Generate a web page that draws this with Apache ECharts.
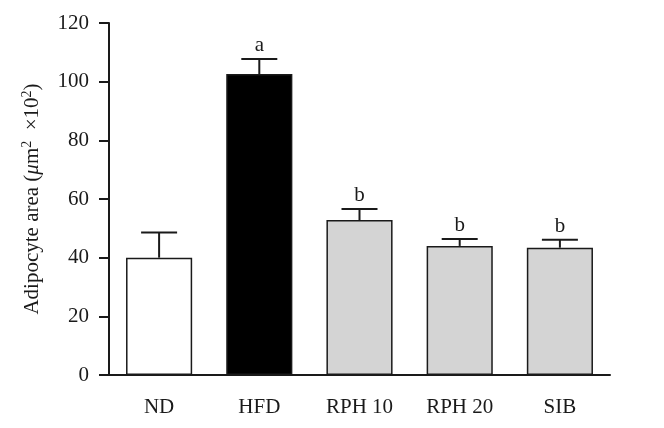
<!DOCTYPE html>
<html>
<head>
<meta charset="utf-8">
<script src="https://cdn.jsdelivr.net/npm/echarts@6/dist/echarts.min.js"></script>
<style>
  html, body { margin: 0; padding: 0; background: #fff; }
  #chart { width: 664px; height: 428px; }
</style>
</head>
<body>
<div id="chart"></div>
<script>
// groups on x axis
var categories = ['ND', 'HFD', 'RPH 10', 'RPH 20', 'SIB']
// mean adipocyte area (um^2 x 10^2)
var means = [40, 102.6, 52.8, 44.0, 43.4]
// upper error (SEM)
var errors = [8.6, 5.1, 3.8, 2.4, 2.7]
// significance letters
var letters = ['', 'a', 'b', 'b', 'b']
var fills = ['#ffffff', '#000000', '#d4d4d4', '#d4d4d4', '#d4d4d4']
var yTicks = [0, 20, 40, 60, 80, 100, 120]

var font = '"Liberation Serif", "DejaVu Serif", serif'

var chart = echarts.init(document.getElementById('chart'))

var barData = []
for (var i = 0; i < means.length; i++) {
  barData.push({ value: means[i], itemStyle: { color: fills[i] } })
}
var errData = []
for (var j = 0; j < means.length; j++) {
  errData.push([j, means[j], means[j] + errors[j], letters[j]])
}

chart.setOption({
  animation: false,
  grid: { left: 109, right: 54, top: 23, bottom: 53 },
  xAxis: {
    type: 'category',
    data: categories,
    axisLine: { lineStyle: { color: '#1a1a1a', width: 2 } },
    axisTick: { alignWithLabel: true, length: 10, lineStyle: { color: '#1a1a1a', width: 2 } },
    axisLabel: { color: '#1a1a1a', fontFamily: font, fontSize: 21, margin: 22 }
  },
  yAxis: {
    type: 'value',
    min: yTicks[0],
    max: yTicks[yTicks.length - 1],
    interval: 20,
    splitLine: { show: false },
    axisLine: { show: true, lineStyle: { color: '#1a1a1a', width: 2 } },
    axisTick: { show: true, length: 10, lineStyle: { color: '#1a1a1a', width: 2 } },
    axisLabel: { color: '#1a1a1a', fontFamily: font, fontSize: 21, margin: 20 },
    name: '{n|Adipocyte area (}{i|μ}{n|m}{s|2}{n|  ×10}{s|2}{n|)}',
    nameLocation: 'middle',
    nameGap: 64,
    nameTextStyle: {
      rich: {
        n: { fontFamily: font, fontSize: 21, color: '#1a1a1a' },
        i: { fontFamily: font, fontSize: 21, fontStyle: 'italic', color: '#1a1a1a' },
        s: { fontFamily: font, fontSize: 14, color: '#1a1a1a', verticalAlign: 'top', padding: [0, 0, 11, 0] }
      }
    }
  },
  series: [
    {
      type: 'bar',
      data: barData,
      barWidth: '66%',
      itemStyle: { borderColor: '#1a1a1a', borderWidth: 1.5 }
    },
    {
      type: 'custom',
      data: errData,
      z: 5,
      renderItem: function (params, api) {
        var base = api.coord([api.value(0), api.value(1)])
        var top = api.coord([api.value(0), api.value(2)])
        var half = 18
        return {
          type: 'group',
          children: [
            { type: 'line', shape: { x1: base[0], y1: base[1], x2: top[0], y2: top[1] },
              style: { stroke: '#1a1a1a', lineWidth: 2 } },
            { type: 'line', shape: { x1: top[0] - half, y1: top[1], x2: top[0] + half, y2: top[1] },
              style: { stroke: '#1a1a1a', lineWidth: 2 } },
            { type: 'text', x: top[0], y: top[1] - 3,
              style: { text: errData[params.dataIndex][3], fill: '#1a1a1a', font: '21px ' + font,
                align: 'center', verticalAlign: 'bottom' } }
          ]
        }
      }
    }
  ]
})
</script>
</body>
</html>
